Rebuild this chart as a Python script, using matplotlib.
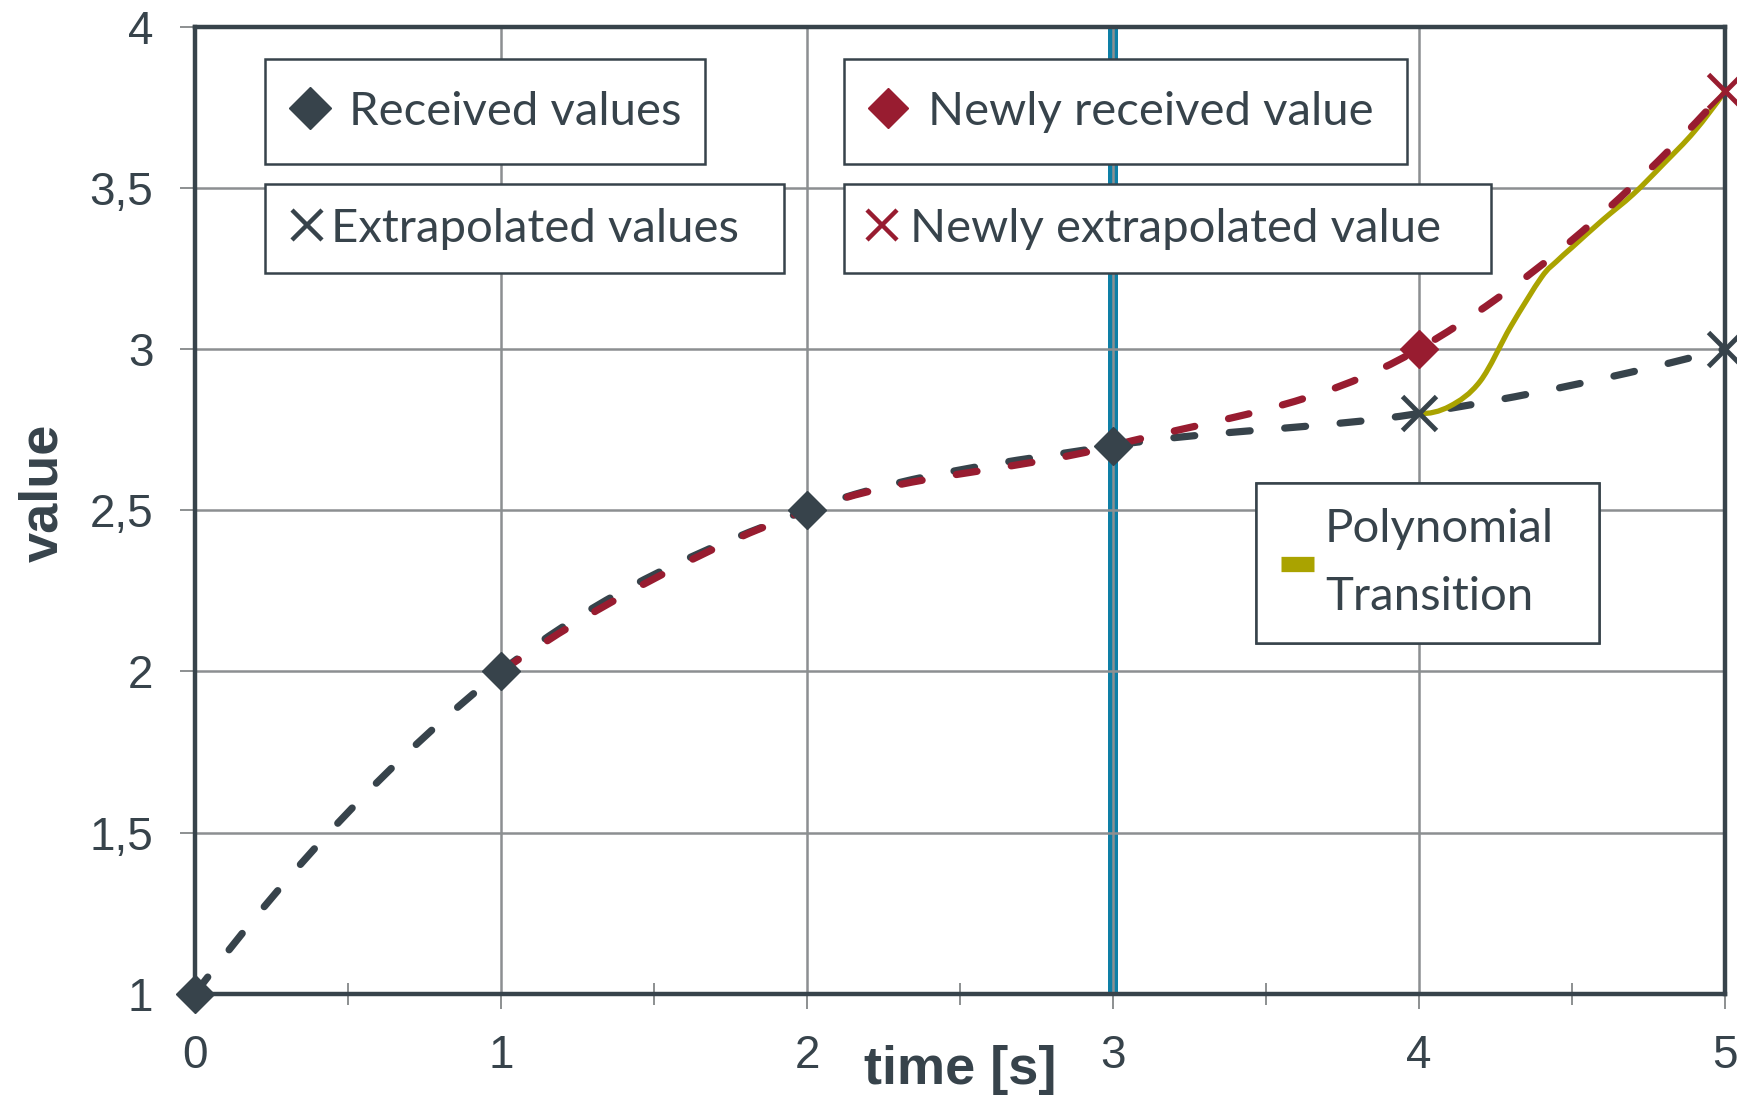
import numpy as np
import matplotlib
matplotlib.use("Agg")
import matplotlib.pyplot as plt
from matplotlib.path import Path
from matplotlib.patches import PathPatch
from matplotlib.lines import Line2D

# --------- DATA ----------
received_t = [0, 1, 2, 3]
received_v = [1.0, 2.0, 2.5, 2.7]

extrapolated_t = [4, 5]
extrapolated_v = [2.8, 3.0]

new_received_t = [4]
new_received_v = [3.0]

new_extrapolated_t = [5]
new_extrapolated_v = [3.8]

transition_t = [4.0, 4.1, 4.2, 4.3, 4.4, 4.45, 4.5, 4.6, 4.7, 4.8, 4.9, 5.0]
transition_v = [2.8, 2.822, 2.90, 3.07, 3.222, 3.272, 3.315, 3.40, 3.48, 3.575, 3.675, 3.8]

current_time = 3

x_ticks = [0, 1, 2, 3, 4, 5]
x_tick_labels = ["0", "1", "2", "3", "4", "5"]
y_ticks = [1, 1.5, 2, 2.5, 3, 3.5, 4]
y_tick_labels = ["1", "1,5", "2", "2,5", "3", "3,5", "4"]
# --------------------------

DARK = "#37434b"
RED = "#981c30"
OLIVE = "#aaa300"
TEAL = "#0e7fa6"
GRID = "#8c8f91"

TICK_FONT = "Liberation Sans"
BOX_FONT = "Lato"


def smooth_path(xs, ys):
    """Bezier path through the points, like a spreadsheet 'smoothed line'."""
    pts = np.column_stack([xs, ys]).astype(float)
    # ghost points at both ends, continued with the local trend
    if len(pts) >= 3:
        first = 3 * pts[0] - 3 * pts[1] + pts[2]
        last = 3 * pts[-1] - 3 * pts[-2] + pts[-3]
    else:
        first = 2 * pts[0] - pts[1]
        last = 2 * pts[-1] - pts[-2]
    ext = np.vstack([first, pts, last])
    verts = [pts[0]]
    codes = [Path.MOVETO]
    for i in range(1, len(ext) - 2):
        p0, p1, p2, p3 = ext[i - 1], ext[i], ext[i + 1], ext[i + 2]
        verts += [p1 + (p2 - p0) / 6, p2 - (p3 - p1) / 6, p2]
        codes += [Path.CURVE4] * 3
    return Path(verts, codes)


def curve(ax, xs, ys, color, lw, dashed, z):
    ls = (0, (2.9, 4.8)) if dashed else "-"
    patch = PathPatch(smooth_path(xs, ys), fill=False, edgecolor=color,
                      linewidth=lw, linestyle=ls, capstyle="round",
                      joinstyle="round", zorder=z)
    ax.add_patch(patch)


def add_box(ax, handle, label, x0, top, bottom, width, pad, hlen, tpad, spacing=None):
    leg = ax.legend([handle], [label], loc="upper left",
                    bbox_to_anchor=(x0, bottom, width, top - bottom),
                    mode="expand", borderaxespad=0, borderpad=pad,
                    handlelength=hlen, handletextpad=tpad, handleheight=0.7,
                    frameon=True, fancybox=False, framealpha=1,
                    edgecolor=DARK, labelcolor=DARK,
                    prop={"family": BOX_FONT, "size": 34})
    leg.get_frame().set_linewidth(1.8)
    if spacing is not None:
        for t in leg.get_texts():
            t.set_linespacing(spacing)
    leg.set_zorder(6)
    ax.add_artist(leg)
    return leg


fig = plt.figure(figsize=(17.37, 10.95), dpi=100)
ax = fig.add_axes([0.11226, 0.09251, 0.88083, 0.8832])

ax.set_xlim(0, 5)
ax.set_ylim(1, 4)

# current time marker
ax.axvline(current_time, color=TEAL, lw=7.2, zorder=0.3)

# old series: received values followed by the old extrapolation
old_t = received_t + extrapolated_t
old_v = received_v + extrapolated_v
curve(ax, old_t, old_v, DARK, 5.2, True, 2)

# transition from the old extrapolation onto the new one
curve(ax, transition_t, transition_v, OLIVE, 3.8, False, 2.5)

# new series: from second received value onwards, with the new points
new_t = received_t[1:] + new_received_t + new_extrapolated_t
new_v = received_v[1:] + new_received_v + new_extrapolated_v
curve(ax, new_t, new_v, RED, 5.2, True, 3)

ax.plot(received_t, received_v, ls="none", marker="D", ms=19, color=DARK,
        clip_on=False, zorder=5)
ax.plot(new_received_t, new_received_v, ls="none", marker="D", ms=19,
        color=RED, clip_on=False, zorder=5)
ax.plot(extrapolated_t, extrapolated_v, ls="none", marker="x", ms=25, mew=3.5,
        color=DARK, clip_on=False, zorder=5)
ax.plot(new_extrapolated_t, new_extrapolated_v, ls="none", marker="x", ms=25,
        mew=3.5, color=RED, clip_on=False, zorder=5)

# axes styling
ax.set_axisbelow(True)
ax.grid(True, which="major", color=GRID, lw=1.8)
for sp in ax.spines.values():
    sp.set_color(DARK)
    sp.set_linewidth(3.2)

ax.set_xticks(x_ticks, labels=x_tick_labels)
ax.set_xticks(np.arange(0.5, 5, 1), minor=True)
ax.set_yticks(y_ticks, labels=y_tick_labels)

ax.tick_params(axis="x", which="major", direction="out", length=11, width=1.4,
               color=GRID, pad=18, labelsize=33, labelcolor=DARK)
ax.tick_params(axis="x", which="minor", direction="inout", length=16,
               width=1.4, color=GRID)
ax.tick_params(axis="y", which="major", direction="out", length=11, width=1.4,
               color=GRID, pad=19, labelsize=33, labelcolor=DARK)
for lab in ax.get_xticklabels() + ax.get_yticklabels():
    lab.set_fontfamily(TICK_FONT)

ax.set_xlabel("time [s]", fontsize=39, fontweight="bold", color=DARK,
              family=TICK_FONT)
ax.xaxis.set_label_coords(0.5, -0.079)
ax.xaxis.label.set_va("center")
ax.set_ylabel("value", fontsize=39, fontweight="bold", color=DARK,
              family=TICK_FONT)
ax.yaxis.set_label_coords(-0.0898, 0.518)
ax.yaxis.label.set_va("baseline")

# legend boxes
add_box(ax, Line2D([], [], ls="none", marker="D", ms=21, color=DARK),
        "Received values", 0.0458, 0.9665, 0.858, 0.2876, 0.67, 0.58, 0.52)
add_box(ax, Line2D([], [], ls="none", marker="x", ms=21, mew=3.2, color=DARK),
        "Extrapolated values", 0.0458, 0.8372, 0.7452, 0.3392, 0.5, 0.79, 0.11)
add_box(ax, Line2D([], [], ls="none", marker="D", ms=20, color=RED),
        "Newly received value", 0.4242, 0.9665, 0.858, 0.368, 0.67, 0.54, 0.56)
add_box(ax, Line2D([], [], ls="none", marker="x", ms=21, mew=3.2, color=RED),
        "Newly extrapolated value", 0.4242, 0.8372, 0.7452, 0.4229, 0.5, 0.62, 0.28)
add_box(ax, Line2D([], [], color=OLIVE, lw=11, solid_capstyle="butt"),
        "Polynomial\nTransition", 0.6935, 0.5279, 0.3604, 0.2242, 0.53, 0.7, 0.23,
        spacing=1.76)

fig.savefig("out.png", dpi=100, facecolor="white")
